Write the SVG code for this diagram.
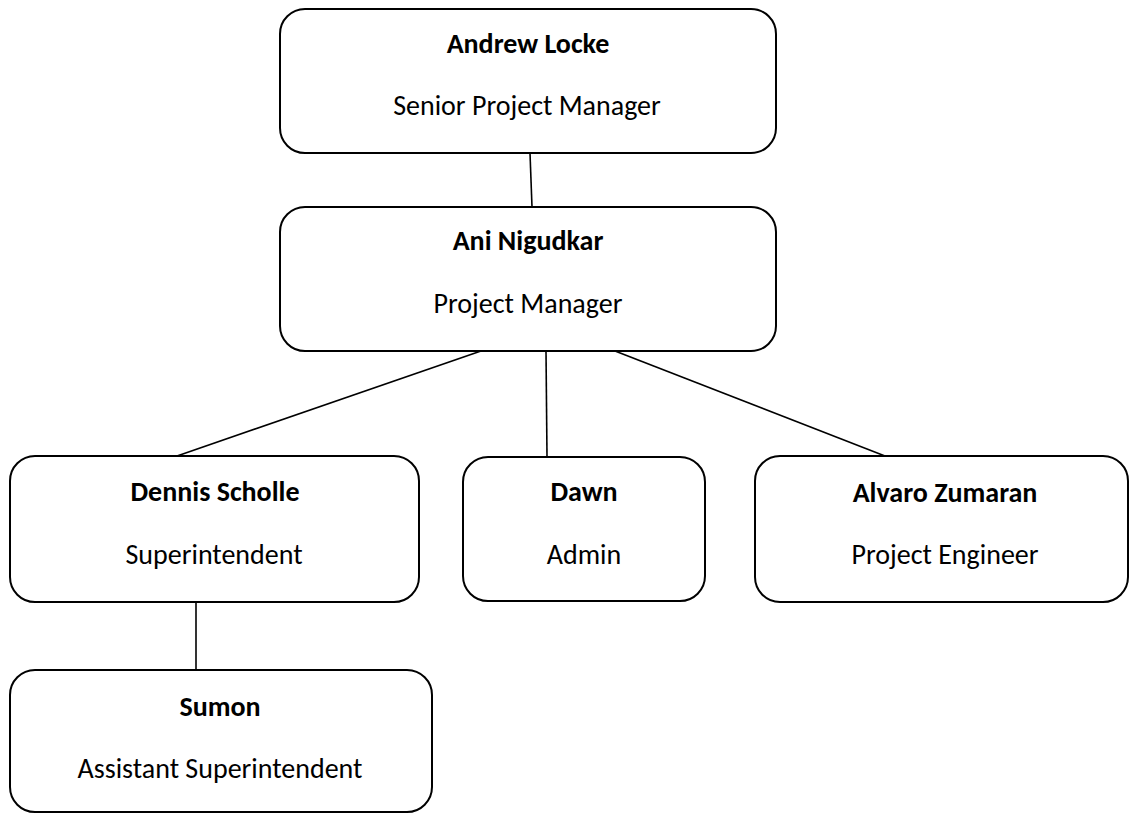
<svg xmlns="http://www.w3.org/2000/svg" width="1129" height="814" viewBox="0 0 1129 814">
<style>
.box{fill:#fff;stroke:#000;stroke-width:2}
.ln{stroke:#000;stroke-width:1.6;fill:none}
text{font-family:Carlito,Lato,"Liberation Sans",sans-serif;font-size:28px;fill:#000;text-anchor:middle}
.n{font-weight:bold}
</style>
<rect width="1129" height="814" fill="#fff"/>
<g id="connectors">
<line class="ln" x1="530" y1="153" x2="532" y2="207"/>
<line class="ln" x1="481" y1="351" x2="177" y2="456"/>
<line class="ln" x1="546" y1="351" x2="547" y2="457"/>
<line class="ln" x1="615" y1="351" x2="885" y2="456"/>
<line class="ln" x1="196" y1="602" x2="196" y2="670"/>
</g>
<g id="andrew">
<rect class="box" x="280" y="9" width="496" height="144" rx="25"/>
<text class="n" x="528" y="53">Andrew Locke</text>
<text x="527" y="115">Senior Project Manager</text>
</g>
<g id="ani">
<rect class="box" x="280" y="207" width="496" height="144" rx="25"/>
<text class="n" x="528" y="250">Ani Nigudkar</text>
<text x="528" y="313">Project Manager</text>
</g>
<g id="dennis">
<rect class="box" x="10" y="456" width="409" height="146" rx="25"/>
<text class="n" x="215" y="501">Dennis Scholle</text>
<text x="214" y="564">Superintendent</text>
</g>
<g id="dawn">
<rect class="box" x="463" y="457" width="242" height="144" rx="25"/>
<text class="n" x="584" y="501">Dawn</text>
<text x="584" y="564">Admin</text>
</g>
<g id="alvaro">
<rect class="box" x="755" y="456" width="373" height="146" rx="25"/>
<text class="n" x="945" y="502">Alvaro Zumaran</text>
<text x="945" y="564">Project Engineer</text>
</g>
<g id="sumon">
<rect class="box" x="10" y="670" width="422" height="142" rx="25"/>
<text class="n" x="220" y="716">Sumon</text>
<text x="220" y="778">Assistant Superintendent</text>
</g>
</svg>
